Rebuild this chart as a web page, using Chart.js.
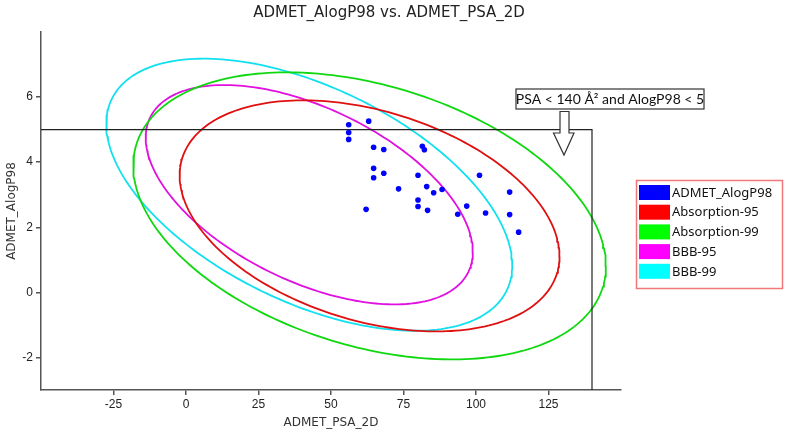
<!DOCTYPE html>
<html>
<head>
<meta charset="utf-8">
<script src="https://cdn.jsdelivr.net/npm/chart.js@4/dist/chart.umd.min.js"></script>
<style>
    body { margin: 0; background: #fff; }
    #wrap { width: 788px; height: 435px; position: relative; }
</style>
</head>
<body>
<div id="wrap"><canvas id="chart-admet"></canvas></div>
<script>

// compounds: ADMET_PSA_2D / ADMET_AlogP98
var psaValues = [56.1, 56.1, 56.1, 63.0, 64.7, 68.2, 64.7, 64.7, 68.2, 62.1, 73.3, 81.5, 82.2, 80.0,
    83.0, 85.4, 88.3, 80.0, 80.0, 83.3, 93.7, 96.8, 101.2, 103.3, 111.6, 111.6, 114.7];
var alogpValues = [5.15, 4.91, 4.70, 5.26, 4.46, 4.39, 3.81, 3.52, 3.66, 2.55, 3.18, 4.49, 4.38, 3.60,
    3.25, 3.06, 3.16, 2.84, 2.64, 2.52, 2.40, 2.65, 3.60, 2.44, 3.08, 2.39, 1.85];

// confidence ellipses
var ellipseNames = ['Absorption-95', 'Absorption-99', 'BBB-95', 'BBB-99'];
var ellipseCenterX = [63.3, 63.3, 42.5, 42.5];
var ellipseCenterY = [2.35, 2.35, 3.0, 3.0];
var ellipseHalfX = [65.5, 81.5, 56.4, 70.0];
var ellipseHalfY = [3.55, 4.41, 3.37, 4.18];
var ellipseCorr = [-0.35, -0.35, -0.52, -0.52];
var ellipseColors = ['#e01010', '#10d810', '#e010e0', '#10e0f0'];

// PSA < 140 and AlogP98 < 5 limit
var limitX = [-50, 140, 140];
var limitY = [5, 5, -3];

var xTicks = [-25, 0, 25, 50, 75, 100, 125];
var yTicks = [-2, 0, 2, 4, 6];

var chartTitle = 'ADMET_AlogP98 vs. ADMET_PSA_2D';
var legendLabels = ['ADMET_AlogP98', 'Absorption-95', 'Absorption-99', 'BBB-95', 'BBB-99'];
var legendColors = ['#0000ff', '#ff0000', '#00ff00', '#ff00ff', '#00ffff'];


function ellipsePoints(i) {
    var pts = [];
    var s = Math.sqrt(1 - ellipseCorr[i] * ellipseCorr[i]);
    for (var k = 0; k <= 240; k++) {
        var t = k / 240 * 2 * Math.PI;
        pts.push({
            x: ellipseCenterX[i] + ellipseHalfX[i] * Math.cos(t),
            y: ellipseCenterY[i] + ellipseHalfY[i] * (ellipseCorr[i] * Math.cos(t) + s * Math.sin(t))
        });
    }
    return pts;
}

var datasets = [];

datasets.push({
    label: 'ADMET_AlogP98',
    data: psaValues.map((v, i) => ({ x: v, y: alogpValues[i] })),
    backgroundColor: '#0000ff',
    borderWidth: 0,
    pointRadius: 2.8,
    order: 0
});

ellipseNames.forEach(function (name, i) {
    datasets.push({
        label: name,
        data: ellipsePoints(i),
        showLine: true,
        borderColor: ellipseColors[i],
        borderWidth: 1.8,
        pointRadius: 0,
        fill: false,
        order: 2
    });
});

datasets.push({
    label: 'limit',
    data: limitX.map((v, i) => ({ x: v, y: limitY[i] })),
    showLine: true,
    borderColor: '#222',
    borderWidth: 1.2,
    pointRadius: 0,
    fill: false,
    order: 1
});


var extrasPlugin = {
    id: 'extras',
    afterDraw: function (chart) {
        var ctx = chart.ctx;
        ctx.save();

        // title
        ctx.fillStyle = '#222';
        ctx.font = '15px "DejaVu Sans"';
        ctx.textAlign = 'center';
        ctx.textBaseline = 'middle';
        ctx.fillText(chartTitle, 389, 13);

        // annotation box + arrow
        ctx.strokeStyle = '#333';
        ctx.lineWidth = 1.2;
        ctx.fillStyle = '#fff';
        ctx.fillRect(516, 89, 188, 20);
        ctx.strokeRect(516, 89, 188, 20);
        ctx.fillStyle = '#111';
        ctx.font = '14px Lato';
        ctx.fillText('PSA < 140 Å² and AlogP98 < 5', 610, 99.5);

        ctx.beginPath();
        ctx.moveTo(560, 111.5);
        ctx.lineTo(569, 111.5);
        ctx.lineTo(569, 133);
        ctx.lineTo(574, 133);
        ctx.lineTo(564, 155);
        ctx.lineTo(553.5, 133);
        ctx.lineTo(560, 133);
        ctx.closePath();
        ctx.fillStyle = '#fff';
        ctx.fill();
        ctx.stroke();

        // legend
        ctx.strokeStyle = '#f07878';
        ctx.lineWidth = 1.5;
        ctx.strokeRect(636.5, 180.5, 146, 108);
        ctx.font = '13px "Noto Sans"';
        ctx.textAlign = 'left';
        legendLabels.forEach(function (label, i) {
            var top = 185 + i * 19.7;
            ctx.fillStyle = legendColors[i];
            ctx.fillRect(639, top, 31, 15);
            ctx.fillStyle = '#111';
            ctx.fillText(label, 672, top + 8);
        });

        ctx.restore();
    }
};


new Chart(
    document.getElementById('chart-admet'),
    {
        type: 'scatter',
        data: { datasets: datasets },
        plugins: [extrasPlugin],
        options: {
            maintainAspectRatio: false,
            responsive: true,
            animation: false,
            layout: { padding: { left: 0, right: 167, top: 32, bottom: 0 } },
            plugins: {
                legend: { display: false },
                tooltip: { enabled: false },
                title: { display: false }
            },
            scales: {
                x: {
                    type: 'linear',
                    min: -50,
                    max: 150,
                    afterBuildTicks: s => { s.ticks = xTicks.map(v => ({ value: v })); },
                    afterFit: s => { s.height = 45; },
                    grid: { drawOnChartArea: false, drawTicks: true, tickLength: 5, color: '#555', lineWidth: 1.5 },
                    border: { display: true, color: '#555', width: 1.5 },
                    ticks: { color: '#222', padding: 2, font: { family: 'Liberation Sans', size: 12 } },
                    title: {
                        display: true,
                        text: 'ADMET_PSA_2D',
                        color: '#333',
                        font: { family: 'DejaVu Sans', size: 12 },
                        padding: { top: 5, bottom: 5 }
                    }
                },
                y: {
                    type: 'linear',
                    min: -3,
                    max: 8,
                    afterBuildTicks: s => { s.ticks = yTicks.map(v => ({ value: v })); },
                    afterFit: s => { s.width = 41; },
                    grid: { drawOnChartArea: false, drawTicks: true, tickLength: 5, color: '#555', lineWidth: 1.5 },
                    border: { display: true, color: '#555', width: 1.5 },
                    ticks: { color: '#222', padding: 3, font: { family: 'Liberation Sans', size: 12 } },
                    title: {
                        display: true,
                        text: 'ADMET_AlogP98',
                        color: '#333',
                        font: { family: 'DejaVu Sans', size: 12 },
                        padding: { top: 5, bottom: 5 }
                    }
                }
            }
        }
    }
);

</script>
</body>
</html>
